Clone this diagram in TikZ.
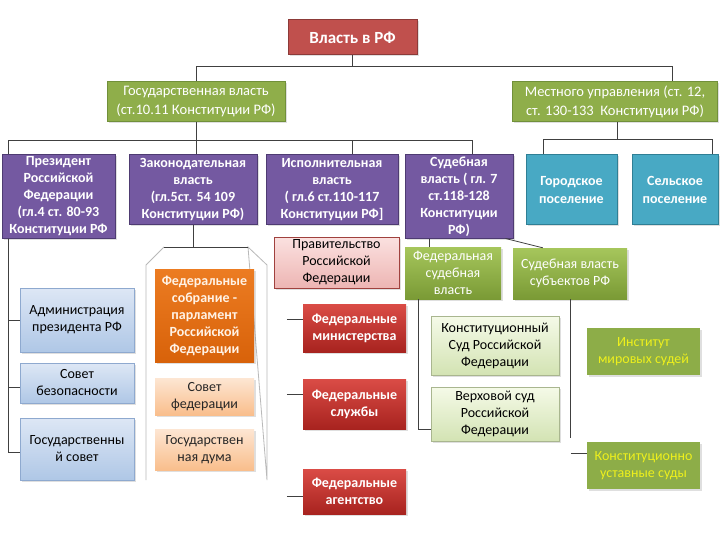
\documentclass[tikz,border=0pt]{standalone}
\usepackage{fontspec}
\setmainfont{Carlito}
\definecolor{vlfill}{HTML}{C0504D}
\definecolor{vldraw}{HTML}{8C3A38}
\definecolor{grfill}{HTML}{8FAE4A}
\definecolor{grdraw}{HTML}{71903A}
\definecolor{pufill}{HTML}{7459A1}
\definecolor{pudraw}{HTML}{4E3B72}
\definecolor{tefill}{HTML}{48A9C4}
\definecolor{tedraw}{HTML}{2F7F95}
\definecolor{bltop}{HTML}{DDE7F5}
\definecolor{blbot}{HTML}{AFC7E6}
\definecolor{bldraw}{HTML}{8EA9CF}
\definecolor{ortop}{HTML}{EC7C22}
\definecolor{orbot}{HTML}{D8620A}
\definecolor{petop}{HTML}{FDE6D3}
\definecolor{pebot}{HTML}{F9BE8C}
\definecolor{pitop}{HTML}{FBE1E0}
\definecolor{pibot}{HTML}{EDB5B3}
\definecolor{pidraw}{HTML}{A0413E}
\definecolor{crtop}{HTML}{DA4C46}
\definecolor{crbot}{HTML}{A8231F}
\definecolor{letop}{HTML}{A6C65C}
\definecolor{lebot}{HTML}{7A9A35}
\definecolor{litop}{HTML}{F5FAE8}
\definecolor{libot}{HTML}{D3E3B3}
\definecolor{olfill}{HTML}{8DAD48}
\definecolor{oltext}{HTML}{EEF01C}
\definecolor{lnk}{HTML}{404040}
\usetikzlibrary{positioning, shadows}
\tikzset{
	basebox/.style={rectangle, align=center, inner sep=1pt,
		font=\fontsize{14}{17}\selectfont,
		drop shadow={opacity=0.25, shadow xshift=1.5pt, shadow yshift=-1.5pt}},
	redbox/.style={basebox, fill=vlfill, draw=vldraw, line width=1pt, text=white,
		font=\fontsize{17}{19}\selectfont\bfseries},
	greenbox/.style={basebox, fill=grfill, draw=grdraw, line width=1pt, text=white,
		font=\fontsize{14.5}{19}\selectfont},
	purplebox/.style={basebox, fill=pufill, draw=pudraw, line width=1pt, text=white,
		font=\fontsize{14}{17}\selectfont\bfseries},
	tealbox/.style={basebox, fill=tefill, draw=tedraw, line width=1pt, text=white,
		font=\fontsize{14}{18}\selectfont\bfseries},
	bluebox/.style={basebox, top color=bltop, bottom color=blbot, draw=bldraw, text=black},
	orangebox/.style={basebox, top color=ortop, bottom color=orbot, text=white!90!orange,
		font=\fontsize{14}{17}\selectfont\bfseries},
	peachbox/.style={basebox, top color=petop, bottom color=pebot, text=black!85},
	pinkbox/.style={basebox, top color=pitop, bottom color=pibot, draw=pidraw, text=black},
	crimsonbox/.style={basebox, top color=crtop, bottom color=crbot, text=white,
		font=\fontsize{14}{17}\selectfont\bfseries},
	leafbox/.style={basebox, top color=letop, bottom color=lebot, text=white},
	limebox/.style={basebox, top color=litop, bottom color=libot, draw=libot!80!black, text=black},
	olivebox/.style={basebox, fill=olfill, text=oltext},
	conn/.style={draw=lnk, line width=0.8pt}
}

\begin{document}
\begin{tikzpicture}[x=1pt, y=-1pt]
	\useasboundingbox[fill=white] (0,0) rectangle (720,540);
	% top levels
	\node[redbox, minimum width=129pt, minimum height=35pt] (vlast) at (352.5,37.5) {Власть в РФ};
	\node[greenbox, minimum width=178pt, minimum height=40pt] (gos) at (196,102) {Государственная власть\\(ст.10.11 Конституции РФ)};
	\node[greenbox, minimum width=205pt, minimum height=40pt] (mest) at (615,102) {Местного управления (ст. 12,\\ст. 130-133~ Конституции РФ)};
	\draw[conn] (vlast.south) -- ++(0,11) -| (gos.north);
	\draw[conn] (vlast.south) ++(0,11) -| ([xshift=57pt]mest.north);

	% branches
	\node[purplebox, minimum width=113pt, minimum height=83pt] (prez) at (58.5,196.5) {Президент\\Российской\\Федерации\\(гл.4 ст. 80-93\\Конституции РФ};
	\node[purplebox, minimum width=128pt, minimum height=70pt] (zak) at (193,190) {Законодательная\\власть\\(гл.5ст. 54 109\\Конституции РФ)};
	\node[purplebox, minimum width=132pt, minimum height=70pt] (isp) at (332,190) {Исполнительная\\власть\\( гл.6 ст.110-117\\Конституции РФ]};
	\node[purplebox, minimum width=108pt, minimum height=83pt] (sud) at (459,196.5) {Судебная\\власть ( гл. 7\\ст.118-128\\Конституции\\РФ)};
	\node[tealbox, minimum width=91pt, minimum height=70pt] (gor) at (571.5,190) {Городское\\поселение};
	\node[tealbox, minimum width=86pt, minimum height=70pt] (sel) at (675,190) {Сельское\\поселение};
	\draw[conn] (gos.south) -- ++(0,18) coordinate (gosd);
	\draw[conn] (gosd) -| ([xshift=-50pt]prez.north);
	\draw[conn] (gosd) -| ([xshift=3pt]zak.north);
	\draw[conn] (gosd) -| ([xshift=20pt]isp.north);
	\draw[conn] (gosd) -| ([xshift=13pt]sud.north);
	\draw[conn] ([xshift=2pt]mest.south) -- ++(0,17) coordinate (mestd);
	\draw[conn] (mestd) -| ([xshift=-28pt]gor.north);
	\draw[conn] (mestd) -| ([xshift=37pt]sel.north);

	% president
	\node[bluebox, minimum width=114pt, minimum height=64pt] (admin) at (77,320) {Администрация\\президента РФ};
	\node[bluebox, minimum width=114pt, minimum height=40pt] (sovbez) at (77,383) {Совет\\безопасности};
	\node[bluebox, minimum width=114pt, minimum height=62pt] (gossov) at (77,449) {Государственны\\й совет};
	\draw[conn] ([xshift=-50pt]prez.south) |- (admin.west);
	\draw[conn] ([xshift=-50pt]prez.south) |- ([yshift=-4pt]sovbez.west);
	\draw[conn] ([xshift=-50pt]prez.south) |- ([yshift=-3pt]gossov.west);

	% legislative
	\draw[gray!55, line width=0.8pt] (146,480) -- (146,265) -- (164,247) (248,247) -- (267,265) -- (267,480) -- cycle;
	\draw[lnk, line width=0.8pt] (164,247) -- (248,247);
	\coordinate (ramka) at (193,247);
	\node[orangebox, minimum width=99pt, minimum height=93pt] (fedsob) at (204.5,315.5) {Федеральные\\собрание -\\парламент\\Российской\\Федерации};
	\node[peachbox, minimum width=99pt, minimum height=37pt] (sovfed) at (204.5,396.5) {Совет\\федерации};
	\node[peachbox, minimum width=99pt, minimum height=41pt] (duma) at (204.5,449.5) {Государствен\\ная дума};
	\draw[conn] (zak.south) -- (ramka);

	% executive
	\node[pinkbox, minimum width=125pt, minimum height=51pt] (prav) at (336.5,262.5) {Правительство\\Российской\\Федерации};
	\node[crimsonbox, minimum width=103pt, minimum height=48pt] (minist) at (354.5,328) {Федеральные\\министерства};
	\node[crimsonbox, minimum width=103pt, minimum height=50pt] (sluzh) at (354.5,404) {Федеральные\\службы};
	\node[crimsonbox, minimum width=103pt, minimum height=45pt] (agent) at (354.5,491.5) {Федеральные\\агентство};
	\coordinate (m1) at ([xshift=-16pt, yshift=9pt]minist.west);
	\coordinate (m2) at ([xshift=-16pt, yshift=10pt]sluzh.west);
	\coordinate (m3) at ([xshift=-16pt, yshift=-5pt]agent.west);
	\draw[conn] (m1) -- (m1 -| minist.west);
	\draw[conn] (m2) -- (m2 -| sluzh.west);
	\draw[conn] (m3) -- (m3 -| agent.west);

	% judicial
	\node[leafbox, minimum width=96pt, minimum height=52pt] (fedsud) at (453,273) {Федеральная\\судебная\\власть};
	\node[leafbox, minimum width=114pt, minimum height=51pt] (subsud) at (570,273.5) {Судебная власть\\субъектов РФ};
	\node[limebox, minimum width=128pt, minimum height=59pt] (ks) at (495,345.5) {Конституционный\\Суд Российской\\Федерации};
	\node[limebox, minimum width=128pt, minimum height=54pt] (vs) at (495,414) {Верховой суд\\Российской\\Федерации};
	\node[olivebox, minimum width=113pt, minimum height=47pt] (mir) at (643.5,351.5) {Институт\\мировых судей};
	\node[olivebox, minimum width=113pt, minimum height=47pt] (kus) at (643.5,465.5) {Конституционно\\уставные суды};
	\draw[conn] ([xshift=-30pt]sud.south) -- ([xshift=-30pt]sud.south |- fedsud.north);
	\draw[conn] ([xshift=-8pt]sud.south east) -- ([xshift=30pt]subsud.north west);
	\draw[conn] ([xshift=-35pt]fedsud.south) |- ([yshift=-15pt]vs.west);
	\coordinate (subend) at ([yshift=-139pt]subsud.south);
	\draw[conn] (subsud.south) -- (subend);
	\coordinate (k1) at ([xshift=-16pt, yshift=12pt]kus.west);
	\draw[conn] (k1) -- (k1 -| kus.west);
\end{tikzpicture}
\end{document}
